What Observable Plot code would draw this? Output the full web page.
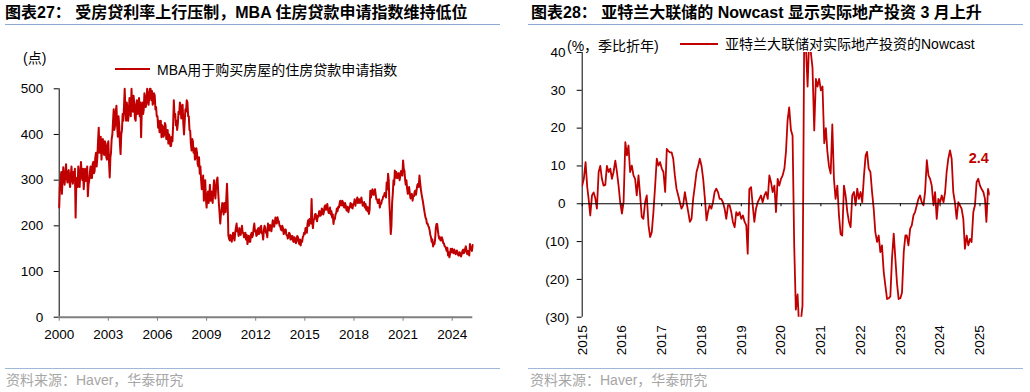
<!DOCTYPE html>
<html><head><meta charset="utf-8">
<script src="https://cdn.jsdelivr.net/npm/d3@7"></script>
<script src="https://cdn.jsdelivr.net/npm/@observablehq/plot@0.6"></script>
<style>
body{margin:0;background:#fff;}
#wrap{position:relative;width:1030px;height:392px;overflow:hidden;font-family:"Liberation Sans",Arial,"Noto Sans CJK SC",sans-serif;}
.title{position:absolute;top:3px;font-size:16px;font-weight:bold;white-space:nowrap;line-height:20px;color:#000;}
.hr{position:absolute;height:1.5px;background:#8eaad0;}
.src{position:absolute;top:371px;font-size:14px;color:#a6a6a6;white-space:nowrap;line-height:18px;}
.lab{position:absolute;font-size:14px;white-space:nowrap;line-height:16px;color:#000;}
.sw{position:absolute;height:2px;background:#c00000;}
</style></head>
<body><div id="wrap"></div>
<script>
// ---------- DATA ----------
// MBA purchase index, twice a month from Jan 2000 to Apr 2025
const mbaValues = [
  240,285,300,318,270,300,328,305,290,312,335,308,295,318,322,296,285,310,330,300,292,318,305,325, // 2000
  218,290,305,285,330,305,285,318,340,310,300,325,280,305,325,298,305,330,265,290,300,318,330,305, // 2001
  305,335,340,315,320,350,360,330,350,385,415,360,370,395,345,372,390,360,355,385,380,350,345,375, // 2002
  385,340,306,350,360,390,400,430,455,410,420,450,463,420,395,440,420,380,357,400,410,445,430,460, // 2003
  500,455,430,470,460,430,445,480,470,440,500,460,450,485,470,435,430,465,475,445,450,480,440,470, // 2004
  394,450,470,445,455,490,480,460,470,500,490,465,480,500,500,475,495,465,470,490,485,455,460,440, // 2005
  440,415,430,405,410,430,394,420,416,395,400,425,420,390,390,410,380,400,395,375,375,395,385,420, // 2006
  475,440,445,420,430,410,425,450,445,470,463,435,440,465,423,400,430,455,450,475,470,440,440,410, // 2007
  408,380,365,390,385,360,370,345,350,370,360,335,330,350,314,330,300,280,285,310,255,290,300,260, // 2008
  240,265,275,250,265,290,255,275,270,250,280,300,275,260,285,300,306,275,250,230,205,225,235,250, // 2009
  240,225,250,235,230,260,292,250,180,172,168,180,172,165,178,185,175,168,185,195,205,188,190,178, // 2010
  195,182,180,192,200,185,185,175,175,185,170,180,160,172,178,165,165,180,185,175,180,195,205,188, // 2011
  190,178,180,192,195,182,185,198,200,185,182,170,190,200,197,185,185,175,205,192,190,202,200,188, // 2012
  200,212,210,198,205,218,215,205,219,212,210,200,200,192,190,200,195,182,185,192,192,180,180,172, // 2013
  175,185,182,170,170,178,178,166,165,175,172,162,168,178,175,165,160,170,157,168,165,175,178,185, // 2014
  182,195,195,185,204,212,200,215,215,205,259,210,195,212,215,225,226,215,210,222,220,232,232,222, // 2015
  225,238,235,225,230,242,245,235,240,248,235,228,230,240,225,232,218,225,204,215,215,225,228,238, // 2016
  232,242,240,250,255,245,245,255,252,242,240,250,245,235,233,242,230,240,240,250,248,240,238,248, // 2017
  248,258,244,252,255,262,250,258,258,250,255,262,252,244,245,252,240,248,235,242,232,240,226,235, // 2018
  277,262,270,280,277,268,272,280,268,258,258,250,250,258,240,248,248,256,258,265,265,272,270,262, // 2019
  295,280,314,300,250,220,182,200,250,270,300,290,321,305,318,305,305,315,315,300,310,320,320,310, // 2020
  343,325,320,300,290,300,282,270,275,285,270,260,262,270,255,265,265,275,277,268,280,290,292,285, // 2021
  310,295,280,270,263,255,245,235,226,218,215,205,205,200,197,190,180,175,165,170,155,160,160,170, // 2022
  195,204,204,190,180,172,175,168,168,175,170,162,162,155,155,150,145,152,135,142,131,140,150,142, // 2023
  150,142,140,148,145,138,139,146,142,135,135,142,140,133,138,145,148,140,142,150,155,145,138,145, // 2024
  140,135,160,150,150,145,158                                                                      // 2025
];
// Atlanta Fed residential investment nowcast, twice a month from Jan 2015 to Apr 2025
const nowcastValues = [
  4.8,6.6,11,4.5,1.3,-3.1,2.2,3,1.5,-1.3,8.4,10,6.6,4.8,5,10,8.4,9.3,6.6,8.4,11.4,8.4,4.8,0.4, // 2015
  -2.6,0.4,16.3,12.8,15.4,8.4,10.1,7.5,6.6,2.2,7.5,2.2,-3.5,-4,0.4,2.2,-5.7,-8.8,-7.5,-2.2,4.8,11.9,10.1,11, // 2016
  9.3,8.4,3.1,14.5,14,13.6,13.6,11.9,7.5,4,2.2,0.4,-1.3,-0.4,3.1,0.4,-2.2,-4.8,-4,1.3,4.8,8.4,10,11.9, // 2017
  10,6.6,1.3,-4.4,-2.2,-0.4,-1.3,0.4,3.1,4,3.1,1.3,1.3,0.4,-1.3,-4,-0.4,-0.4,-2.2,-4.8,-6.2,-2.2,-3.1,-2.2, // 2018
  -4,-3.1,-4.8,-5.7,-13.2,3.9,4.4,-0.4,-4.8,-1.3,0.4,1.3,2.2,0.4,2.2,3.1,1.3,7.5,5.7,3.1,4.8,-2.2,6.6,4.8, // 2019
  6.6,7.5,9.3,14,22,25.5,19.5,18,-11,-28,-24,-33,-31,-27,45,42,31,44,40,36,19.4,33,31,33, // 2020
  30,31,16,20,14,10,8,21,6.6,1.3,4.8,-3,-8,-8.4,4.8,2.2,-2.2,-4.8,-6.2,2.2,3.1,-0.4,4,1.3, // 2021
  3.1,0.4,7.5,12.8,13.7,9.3,8.4,3.1,-1.3,-7.5,-10.1,-8.4,-12.8,-11,-18,-21.6,-25.2,-25,-24.5,-14.5,-7.9,-14.5,-21,-25.2, // 2022
  -25,-23.5,-12.8,-8.4,-8.4,-11,-6.6,-5.7,-3.1,-2.2,-0.4,1.3,2.2,0.4,-0.4,3.1,11.5,7.5,6.6,4.8,-0.4,3.1,-4,1.3, // 2023
  0.4,2.2,0.4,3.1,8.4,11.9,14.1,11.9,3.1,0.4,-4,0.4,-0.4,-1.3,-4,-11.9,-8.4,-11,-9.3,-10.1,-2.2,-0.4,5.7,6.6, // 2024
  4.8,3.9,3.1,1.3,-4.8,3.9,2.4 // 2025
];
const leftYTicks = [0,100,200,300,400,500];
const leftXTicks = [2000,2003,2006,2009,2012,2015,2018,2021,2024];
const rightYTicks = [-30,-20,-10,0,10,20,30,40];
const rightXTicks = [2015,2016,2017,2018,2019,2020,2021,2022,2023,2024,2025];

const leftTitle = "图表27：&nbsp;受房贷利率上行压制，MBA 住房贷款申请指数维持低位";
const rightTitle = "图表28：&nbsp;亚特兰大联储的 Nowcast 显示实际地产投资 3 月上升";
const leftLegend = "MBA用于购买房屋的住房贷款申请指数";
const rightLegend = "亚特兰大联储对实际地产投资的Nowcast";
const leftUnit = "(点)";
const rightUnit = "(%，季比折年)";
const source = "资料来源：Haver，华泰研究";

// ---------- BUILD ----------
const red = "#c00000";
const utc = (y,m=0,d=1) => new Date(Date.UTC(y,m,d));
const halfMonth = (y0, i) => utc(y0, Math.floor(i/2), i%2 ? 16 : 1);
const mba = mbaValues.map((v,i)=>({date:halfMonth(2000,i), value:v}));
const nowcast = nowcastValues.map((v,i)=>({date:halfMonth(2015,i), value:v}));
const last = nowcast[nowcast.length-1];
const style = {fontFamily:'"Liberation Sans", Arial, sans-serif', fontSize:"13.5px", color:"#000", background:"transparent", overflow:"visible"};

const leftStart = utc(2000);
const leftPlot = Plot.plot({
  width:515, height:330, marginLeft:58.7, marginRight:42.7, marginTop:58.3, marginBottom:43.3,
  style,
  x:{type:"utc", domain:[leftStart, utc(2025,3,5)]},
  y:{domain:[0,500]},
  marks:[
    Plot.axisY({ticks:leftYTicks, tickSize:5, tickPadding:11, label:null, tickFormat:d=>String(d)}),
    Plot.axisX({ticks:leftXTicks.map(y=>utc(y)), tickSize:4, tickPadding:8, stroke:"#7f7f7f", label:null, tickFormat:d=>String(d.getUTCFullYear())}),
    Plot.ruleX([leftStart], {y1:0, y2:500, stroke:"#000"}),
    Plot.lineY(mba, {x:"date", y:"value", stroke:red, strokeWidth:2}),
    Plot.ruleY([0], {stroke:"#7f7f7f", strokeWidth:2})
  ]
});

const rightStart = utc(2015);
const rightPlot = Plot.plot({
  width:515, height:330, marginLeft:66.7, marginRight:40.3, marginTop:22, marginBottom:43.3,
  style,
  x:{type:"utc", domain:[rightStart, utc(2025,3,5)]},
  y:{domain:[-30,40]},
  marks:[
    Plot.axisY({ticks:rightYTicks, tickSize:5, tickPadding:8, label:null, tickFormat:d=> d<0 ? `(${-d})` : `${d}\u2008`}),
    Plot.axisX({ticks:rightXTicks.map(y=>utc(y)), tickSize:0, tickPadding:8, tickRotate:-90, label:null, tickFormat:d=>String(d.getUTCFullYear())}),
    Plot.ruleX([rightStart], {y1:-30, y2:40, stroke:"#000"}),
    Plot.lineY(nowcast, {x:"date", y:"value", stroke:red, strokeWidth:1.8, clip:true}),
    Plot.ruleY([0], {stroke:"#000", strokeWidth:1.2}),
    Plot.ruleX(rightXTicks.map(y=>utc(y)), {x:d=>d, y1:0, y2:0, insetBottom:-3, stroke:"#000"}),
    Plot.text([last], {x:"date", y:"value", text:d=>d3.format(".1f")(d.value), dx:-11, dy:-36, fill:red, fontWeight:"bold", fontSize:14.5})
  ]
});

const wrap = document.getElementById("wrap");
function add(html, cls, css){ const e=document.createElement("div"); e.className=cls; e.innerHTML=html; Object.assign(e.style, css); wrap.appendChild(e); return e; }

for (const [p, left] of [[leftPlot, "0px"], [rightPlot, "515px"]]) {
  p.style.position = "absolute"; p.style.left = left; p.style.top = "30px";
  wrap.appendChild(p);
}

add(leftTitle, "title", {left:"5px"});
add(rightTitle, "title", {left:"531px"});
add("", "hr", {left:"5px", width:"495px", top:"23.5px"});
add("", "hr", {left:"528px", width:"495px", top:"23.5px"});
add("", "hr", {left:"5px", width:"495px", top:"367.5px", background:"#9fb7d8"});
add("", "hr", {left:"528px", width:"495px", top:"367.5px", background:"#9fb7d8"});
add(source, "src", {left:"6px"});
add(source, "src", {left:"530px"});
add("", "sw", {left:"115px", width:"35px", top:"68px"});
add(leftLegend, "lab", {left:"157px", top:"62px"});
add("", "sw", {left:"680px", width:"38px", top:"43px"});
add(rightLegend, "lab", {left:"725px", top:"36px"});
add(leftUnit, "lab", {left:"23px", top:"50px"});
add(rightUnit, "lab", {left:"567px", top:"38px"});
</script></body></html>
